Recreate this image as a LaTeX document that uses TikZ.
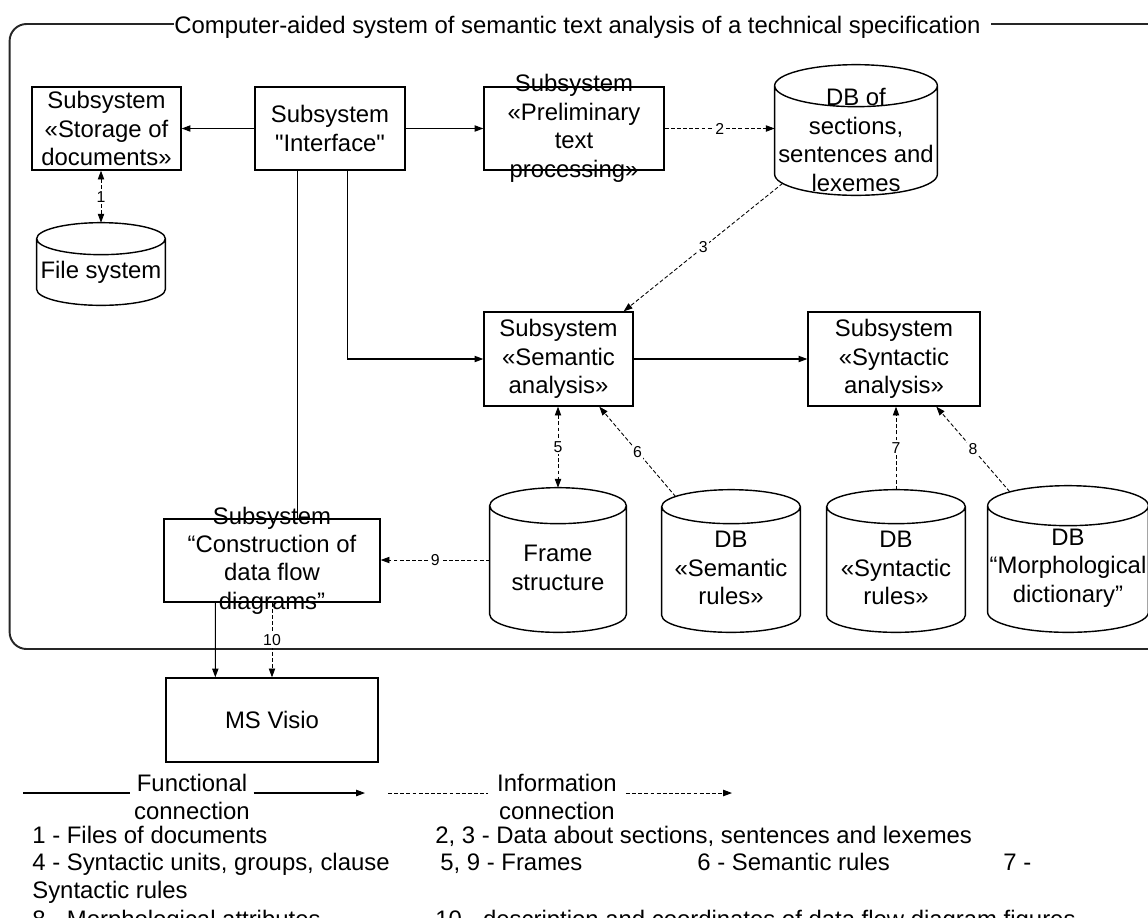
\documentclass[tikz,border=0pt]{standalone}
\usepackage{fontspec}
\setmainfont{Liberation Sans}
\newfontfamily\qfont{Liberation Sans}
\usetikzlibrary{arrows.meta,calc}
\newcommand\mainfs{\fontsize{13.6pt}{16.2pt}\selectfont}
\newcommand\smallfs{\fontsize{9pt}{10pt}\selectfont}
\newcommand\drawcyl[2]{%
  \draw[cylline] let \p1=(#1.north west), \p2=(#1.south east), \n1={(\x2-\x1)/2} in
  (\x1,\y1-#2) -- (\x1,\y2+#2) arc[start angle=180,end angle=360,x radius=\n1,y radius=#2]
  -- (\x2,\y1-#2) arc[start angle=0,end angle=360,x radius=\n1,y radius=#2];}
\begin{document}
\begin{tikzpicture}[x=0.02cm,y=-0.02cm,
  every node/.style={font=\mainfs},
  box/.style={draw,line width=0.8pt,inner sep=0pt},
  cylnode/.style={inner sep=0pt},
  txt/.style={align=center,inner sep=0pt},
  func/.style={line width=0.6pt,-{Triangle[length=5pt,width=3.6pt]}},
  fline/.style={line width=0.6pt},
  info/.style={line width=0.5pt,dash pattern=on 2.2pt off 1.3pt,-{Triangle[length=5pt,width=3.6pt]}},
  iline/.style={line width=0.5pt,dash pattern=on 2.2pt off 1.3pt},
  infob/.style={info,{Triangle[length=5pt,width=3.6pt]}-{Triangle[length=5pt,width=3.6pt]}},
  lbl/.style={font=\smallfs,fill=white,inner sep=0.8pt},
  frm/.style={line width=1.1pt,draw=black!85},
  cylline/.style={line width=0.8pt},
  legtxt/.style={anchor=base west,inner sep=0pt}]
\useasboundingbox (0,0) rectangle (1148,917);

% frame with title
\draw[frm,rounded corners=0.34cm] (1200,24) -- (9.6,24) -- (9.6,649) -- (1200,649);
\node[anchor=base west,fill=white,inner xsep=0pt,inner ysep=3pt] (title) at (174,33)
  {Computer-aided system of semantic text analysis of a technical specification\hspace*{6pt}};

% boxes
\node[box,minimum width=2.98cm,minimum height=1.66cm] (stor) at (106.5,128.5) {};
\node[txt] (stor-t) at (stor) {Subsystem\\«Storage of\\documents»};
\node[box,minimum width=3.0cm,minimum height=1.66cm] (intf) at (330,128.5) {};
\node[txt] (intf-t) at (intf) {Subsystem\\{\qfont"Interface"}};
\node[box,minimum width=3.6cm,minimum height=1.66cm] (prel) at (574,128.5) {};
\node[txt] (prel-t) at (prel) {Subsystem\\«Preliminary\\text\\processing»};
\node[box,minimum width=2.98cm,minimum height=1.88cm] (sem) at (558.5,359) {};
\node[txt] (sem-t) at (sem) {Subsystem\\«Semantic\\analysis»};
\node[box,minimum width=3.44cm,minimum height=1.88cm] (syn) at (894,359) {};
\node[txt] (syn-t) at (syn) {Subsystem\\«Syntactic\\analysis»};
\node[box,minimum width=4.32cm,minimum height=1.66cm] (cons) at (272,560.5) {};
\node[txt] (cons-t) at (cons) {Subsystem\\“Construction of\\data flow\\diagrams”};
\node[box,minimum width=4.24cm,minimum height=1.68cm] (visio) at (272,720) {};
\node[txt] (visio-t) at (visio) {MS Visio};

% cylinders
\node[cylnode,minimum width=2.56cm,minimum height=1.64cm] (fs) at (101,264) {};
\drawcyl{fs}{0.32cm}
\node[txt] (fs-t) at (101,272) {File system};
\node[cylnode,minimum width=3.24cm,minimum height=2.6cm] (db1) at (856,130) {};
\drawcyl{db1}{0.42cm}
\node[txt] (db1-t) at (856,140) {DB of\\sections,\\sentences and\\lexemes};
\node[cylnode,minimum width=2.72cm,minimum height=2.88cm] (frame) at (558,560) {};
\drawcyl{frame}{0.36cm}
\node[txt] (frame-t) at (558,568) {Frame\\structure};
\node[cylnode,minimum width=2.76cm,minimum height=2.84cm] (semr) at (731,561) {};
\drawcyl{semr}{0.34cm}
\node[txt] (semr-t) at (731,568) {DB\\«Semantic\\rules»};
\node[cylnode,minimum width=2.76cm,minimum height=2.84cm] (synr) at (896,561) {};
\drawcyl{synr}{0.34cm}
\node[txt] (synr-t) at (896,568) {DB\\«Syntactic\\rules»};
\node[cylnode,minimum width=3.2cm,minimum height=2.92cm] (morph) at (1068,559) {};
\drawcyl{morph}{0.4cm}
\node[txt] (morph-t) at (1068,568) {DB\\“Morphological\\dictionary”};

% connectors
\draw[func] (intf.west) -- (stor.east);
\draw[func] (intf.east) -- (prel.west);
\draw[info] (prel.east) -- node[lbl]{2} (prel.east -| db1.west);
\draw[infob] (fs.north |- stor.south) -- node[lbl]{1} (fs.north);
\draw[info] ($(db1.south west)+(8,-12)$) -- node[lbl]{3} ($(sem.north east)+(-10,0)$);
\draw[func] ($(intf.south west)+(93,0)$) |- (sem.west);
\draw[fline] ($(intf.south west)+(43.5,0)$) coordinate (ic) -- (ic |- cons.north);
\draw[func] (sem.east) -- (syn.west);
\draw[infob] (frame.north |- sem.south) -- node[lbl]{5} (frame.north);
\draw[info] ($(semr.north west)+(14,7)$) -- node[lbl]{6} ($(sem.south west)+(116,0)$);
\draw[info] (synr.north) -- node[lbl]{7} (synr.north |- syn.south);
\draw[info] ($(morph.north west)+(22,6)$) -- node[lbl]{8} ($(syn.south west)+(129,0)$);
\draw[info] (frame.west) -- node[lbl]{9} (frame.west -| cons.east);
\draw[func] ($(cons.south west)+(52,0)$) -- ($(visio.north west)+(50,0)$);
\draw[info] (cons.south) -- node[lbl,inner ysep=1.5pt]{10} (visio.north);

% legend
\coordinate (l1s) at (23,793);
\coordinate (l1e) at (365,793);
\node[txt,inner xsep=2pt] (l1) at (192,797) {Functional\\connection};
\draw[fline] (l1s) -- (l1s -| l1.west);
\draw[func] (l1s -| l1.east) -- (l1e);
\coordinate (l2s) at (388,793);
\coordinate (l2e) at (732,793);
\node[txt,inner xsep=5pt] (l2) at (557,797) {Information\\connection};
\draw[iline] (l2s) -- (l2s -| l2.west);
\draw[info] (l2s -| l2.east) -- (l2e);

\node[legtxt] (n1) at (32,843) {1 - Files of documents};
\node[legtxt] (n2) at (435,843) {2, 3 - Data about sections, sentences and lexemes};
\node[legtxt] (n4) at (32,870) {4 - Syntactic units, groups, clause};
\node[legtxt] (n5) at (440,870) {5, 9 - Frames};
\node[legtxt] (n6) at (697,870) {6 - Semantic rules};
\node[legtxt] (n7) at (1003,870) {7 -};
\node[legtxt] (n7b) at (32,898) {Syntactic rules};
\node[legtxt] (n8) at (32,927) {8 - Morphological attributes};
\node[legtxt] (n10) at (435,927) {10 - description and coordinates of data flow diagram figures};
\end{tikzpicture}
\end{document}
